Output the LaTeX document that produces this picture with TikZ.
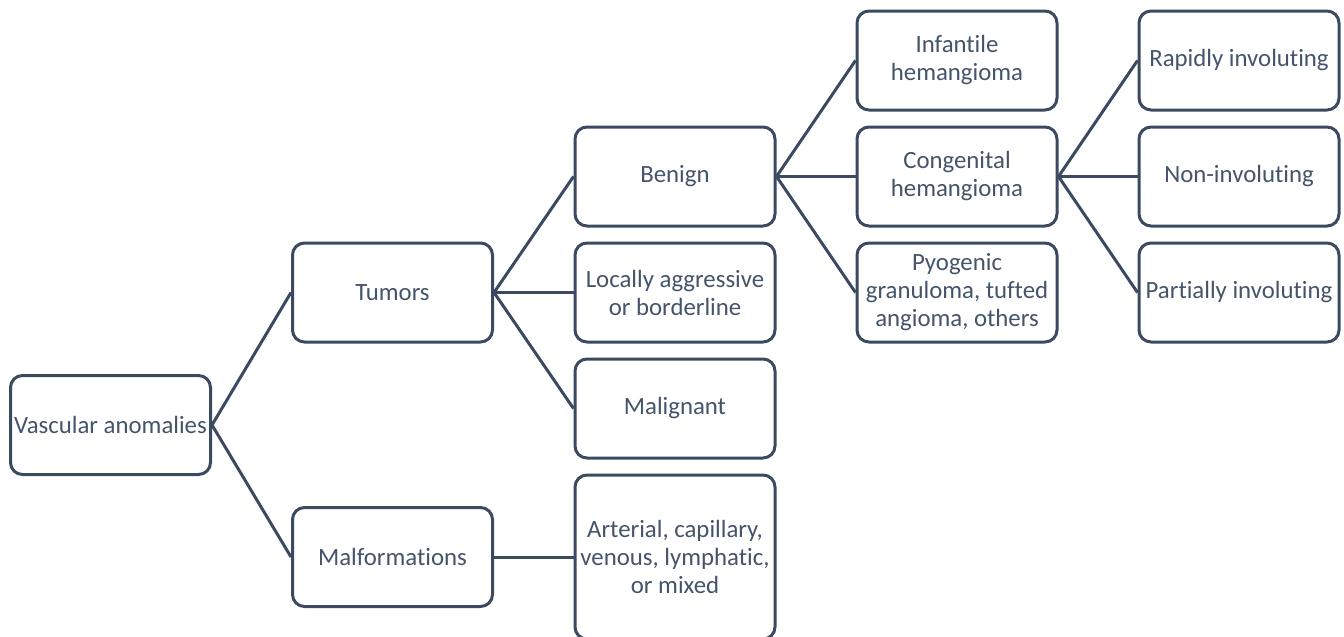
\documentclass[tikz,border=0pt]{standalone}
\usepackage{fontspec}
\setmainfont{Carlito}[Ligatures=NoCommon]
\definecolor{slate}{HTML}{44546A}
\definecolor{edge}{HTML}{3B4A60}
\begin{document}
\begin{tikzpicture}[x=0.5pt,y=-0.5pt,
  box/.style={draw=edge,line width=1.5pt,rounded corners=6pt,fill=white,
    minimum width=100pt,minimum height=49.5pt,align=center,
    text=slate,font=\fontsize{12.4}{14}\selectfont,inner sep=1pt},
  link/.style={draw=edge,line width=1.5pt}]
\useasboundingbox (0,0) rectangle (1344,637);
\node[box] (va) at (110.5,425) {Vascular anomalies};
\node[box] (tu) at (392.5,292.5) {Tumors};
\node[box] (ma) at (392.5,557) {Malformations};
\node[box] (be) at (675,176.5) {Benign};
\node[box] (la) at (675,292.5) {Locally aggressive\\or borderline};
\node[box] (mg) at (675,408.5) {Malignant};
\node[box,minimum height=82pt] (ar) at (675,557) {Arterial, capillary,\\venous, lymphatic,\\or mixed};
\node[box] (ih) at (957,60.5) {Infantile\\hemangioma};
\node[box] (ch) at (957,176.5) {Congenital\\hemangioma};
\node[box] (py) at (957,292.5) {Pyogenic\\granuloma, tufted\\angioma, others};
\node[box] (ri) at (1239,60.5) {Rapidly involuting};
\node[box] (ni) at (1239,176.5) {Non-involuting};
\node[box] (pi) at (1239,292.5) {Partially involuting};
\foreach \a/\b in {va/tu,va/ma,tu/be,tu/la,tu/mg,ma/ar,be/ih,be/ch,be/py,ch/ri,ch/ni,ch/pi}
  \draw[link] (\a.east) -- (\b.west);
\end{tikzpicture}
\end{document}
